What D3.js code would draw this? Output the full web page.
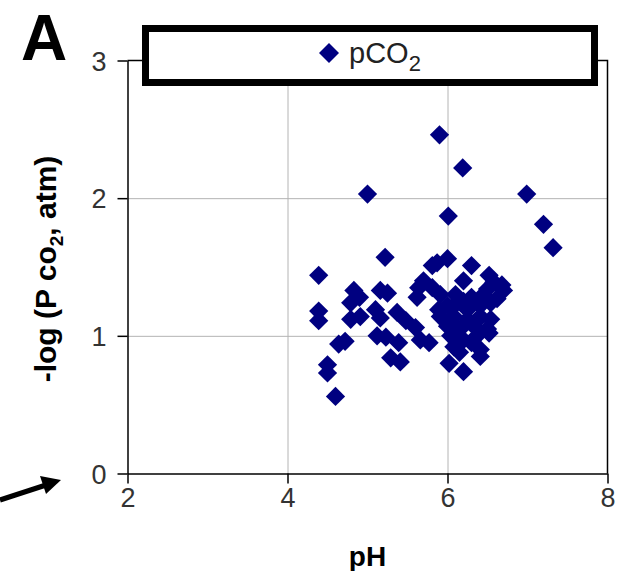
<!DOCTYPE html>
<html>
<head>
<meta charset="utf-8">
<script src="https://cdn.jsdelivr.net/npm/d3@7"></script>
<style>
body { margin: 0; background: #fff; }
text { font-family: "Liberation Sans", Arial, sans-serif; }
</style>
</head>
<body>
<div id="chart"></div>
<script>
// pH / -log(Pco2)
var phValues = [
  5.90, 6.19, 5.00, 6.99, 6.01, 7.20, 7.32, 5.22, 4.39, 5.87,
  6.00, 5.81, 6.30, 6.20, 6.52, 6.68, 4.83, 5.16, 5.64, 4.39,
  4.39, 4.90, 4.79, 4.91, 4.79, 4.72, 4.64, 4.50, 4.50, 4.60,
  5.25, 5.10, 5.16, 5.37, 5.48, 5.12, 5.23, 5.39, 5.29, 5.41,
  5.60, 5.66, 5.77, 5.70, 5.62, 5.81, 5.91, 6.00, 6.12, 6.25,
  6.41, 6.54, 6.62, 6.50, 6.58, 6.08, 6.25, 6.41, 6.54, 6.00,
  6.16, 6.33, 6.50, 6.04, 6.20, 6.37, 6.52, 6.08, 6.41, 6.41,
  6.02, 6.20, 5.89, 5.91, 6.70, 6.10, 6.30, 6.45, 6.20, 6.35,
  6.15, 6.30, 6.05
];
var pco2Values = [
  2.46, 2.22, 2.03, 2.03, 1.87, 1.81, 1.64, 1.57, 1.44, 1.53,
  1.56, 1.51, 1.51, 1.40, 1.44, 1.37, 1.33, 1.33, 1.35, 1.18,
  1.11, 1.28, 1.24, 1.14, 1.12, 0.96, 0.94, 0.79, 0.73, 0.56,
  1.31, 1.19, 1.13, 1.17, 1.11, 1.00, 0.99, 0.95, 0.84, 0.81,
  1.06, 0.97, 0.95, 1.40, 1.28, 1.35, 1.30, 1.22, 1.24, 1.19,
  1.22, 1.24, 1.27, 1.34, 1.39, 1.14, 1.12, 1.14, 1.12, 1.07,
  1.05, 1.07, 1.05, 1.00, 0.97, 1.00, 1.02, 0.92, 0.90, 0.85,
  0.80, 0.74, 1.19, 1.14, 1.33, 1.30, 1.28, 1.30, 1.25, 1.10,
  0.88, 0.95, 1.10
];
var xTicks = [2, 4, 6, 8];
var yTicks = [0, 1, 2, 3];
var xGrid = [4, 6];
var yGrid = [1, 2];
var legendLabel = "pCO";

var width = 623, height = 571;
var plotL = 127.5, plotR = 607.5, plotT = 60.5, plotB = 473.5;

var svg = d3.select("#chart").append("svg")
  .attr("width", width)
  .attr("height", height);

var x = d3.scaleLinear().domain([2, 8]).range([plotL, plotR]);
var y = d3.scaleLinear().domain([0, 3]).range([plotB, plotT]);

// grid
svg.append("g")
  .attr("transform", "translate(0," + plotB + ")")
  .call(d3.axisBottom(x).tickValues(xGrid).tickSize(-(plotB - plotT)).tickFormat(""))
  .call(function(g) {
    g.select(".domain").remove();
    g.selectAll("line").attr("stroke", "#b4b4b4");
  });
svg.append("g")
  .attr("transform", "translate(" + plotL + ",0)")
  .call(d3.axisLeft(y).tickValues(yGrid).tickSize(-(plotR - plotL)).tickFormat(""))
  .call(function(g) {
    g.select(".domain").remove();
    g.selectAll("line").attr("stroke", "#b4b4b4");
  });

// frame top/right
svg.append("path")
  .attr("d", "M" + plotL + "," + plotT + "H" + plotR + "V" + plotB)
  .attr("fill", "none")
  .attr("stroke", "#000")
  .attr("stroke-width", 1.5);

// axes
var xAxis = svg.append("g")
  .attr("transform", "translate(0," + plotB + ")")
  .call(d3.axisBottom(x).tickValues(xTicks).tickFormat(d3.format("d"))
    .tickSize(10).tickSizeOuter(0).tickPadding(4));
var yAxis = svg.append("g")
  .attr("transform", "translate(" + plotL + ",0)")
  .call(d3.axisLeft(y).tickValues(yTicks).tickFormat(d3.format("d"))
    .tickSize(10).tickSizeOuter(0).tickPadding(11));

[xAxis, yAxis].forEach(function(a) {
  a.select(".domain").attr("stroke", "#000").attr("stroke-width", 1.5);
  a.selectAll(".tick line").attr("stroke", "#000").attr("stroke-width", 1.5);
  a.selectAll(".tick text")
    .attr("fill", "#333")
    .style("font-size", "27px")
    .style("font-family", "'Liberation Sans', Arial, sans-serif");
});
xAxis.selectAll(".tick text").attr("dy", "0.71em");
yAxis.selectAll(".tick text").attr("dy", "0.36em");

// points
var pts = phValues.map(function(v, i) { return [v, pco2Values[i]]; });
var diamond = d3.symbol().type(d3.symbolSquare).size(185);
svg.append("g").selectAll("path")
  .data(pts)
  .enter().append("path")
  .attr("d", diamond)
  .attr("transform", function(d) { return "translate(" + x(d[0]) + "," + y(d[1]) + ") rotate(45)"; })
  .attr("fill", "#000080");

// legend
svg.append("rect")
  .attr("x", 145.5).attr("y", 28.5)
  .attr("width", 449).attr("height", 54)
  .attr("fill", "#fff")
  .attr("stroke", "#000")
  .attr("stroke-width", 7);
svg.append("path")
  .attr("d", d3.symbol().type(d3.symbolSquare).size(200))
  .attr("transform", "translate(329,53) rotate(45)")
  .attr("fill", "#000080");
var lt = svg.append("text")
  .attr("x", 349).attr("y", 63)
  .attr("fill", "#222")
  .style("font-size", "29px");
lt.append("tspan").text(legendLabel);
lt.append("tspan").attr("dy", 8).style("font-size", "22px").text("2");

// "A" panel letter
svg.append("text")
  .attr("x", 21).attr("y", 60)
  .style("font-size", "64px")
  .style("font-weight", "bold")
  .text("A");

// axis titles
svg.append("text")
  .attr("x", (plotL + plotR) / 2).attr("y", 566)
  .attr("text-anchor", "middle")
  .style("font-size", "28px")
  .style("font-weight", "bold")
  .text("pH");

var yl = svg.append("text")
  .attr("transform", "translate(56,269) rotate(-90)")
  .attr("text-anchor", "middle")
  .style("font-size", "30px")
  .style("font-weight", "bold");
yl.append("tspan").text("-log (P co");
yl.append("tspan").attr("dy", 7).style("font-size", "19px").text("2");
yl.append("tspan").attr("dy", -7).text(", atm)");

// arrow pointing at the origin
svg.append("line")
  .attr("x1", 0).attr("y1", 500)
  .attr("x2", 46).attr("y2", 485)
  .attr("stroke", "#000")
  .attr("stroke-width", 5);
svg.append("path")
  .attr("d", "M61,480 L40,476 L46,494 Z")
  .attr("fill", "#000");
</script>
</body>
</html>
